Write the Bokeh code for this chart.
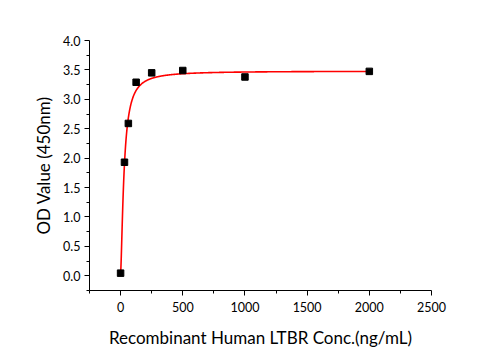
import numpy as np
from bokeh.plotting import figure
from bokeh.models import Range1d, FixedTicker, PrintfTickFormatter
from bokeh.embed import file_html
from bokeh.resources import INLINE

# Measured data
conc = [0, 31.25, 62.5, 125, 250, 500, 1000, 2000]
od = [0.045, 1.93, 2.59, 3.29, 3.45, 3.49, 3.38, 3.475]

# 4-parameter logistic fit parameters (as drawn in the chart)
fit_A1 = 0.045
fit_A2 = 3.48
fit_x0 = 28.0
fit_p = 1.5

x_ticks = [0, 500, 1000, 1500, 2000, 2500]
y_ticks = [0.0, 0.5, 1.0, 1.5, 2.0, 2.5, 3.0, 3.5, 4.0]

xs = np.linspace(0, 2000, 800)
ys = fit_A2 + (fit_A1 - fit_A2) / (1 + (xs / fit_x0) ** fit_p)

FONT = "Lato"

p = figure(width=501, height=350, output_backend="svg", toolbar_location=None,
           x_range=Range1d(-250, 2500), y_range=Range1d(-0.25, 4.0),
           min_border_left=89, min_border_right=70, min_border_top=40,
           min_border_bottom=58)
p.outline_line_color = None
p.xgrid.visible = False
p.ygrid.visible = False
p.background_fill_color = "white"
p.border_fill_color = "white"

p.line(xs, ys, line_color="red", line_width=1.6)
p.scatter(conc, od, marker="square", size=6.5, fill_color="black", line_color="black")

xa = p.xaxis[0]
xa.ticker = FixedTicker(ticks=x_ticks, minor_ticks=[-250, 250, 750, 1250, 1750, 2250])
xa.axis_label = "Recombinant Human LTBR Conc.(ng/mL)"
ya = p.yaxis[0]
ya.ticker = FixedTicker(ticks=y_ticks, minor_ticks=[-0.25, 0.25, 0.75, 1.25, 1.75, 2.25, 2.75, 3.25, 3.75])
ya.formatter = PrintfTickFormatter(format="%.1f")
ya.axis_label = "OD Value (450nm)"

for ax in (xa, ya):
    ax.axis_line_color = "black"
    ax.major_tick_line_color = "black"
    ax.minor_tick_line_color = "black"
    ax.major_tick_out = 5
    ax.major_tick_in = 0
    ax.minor_tick_out = 3
    ax.minor_tick_in = 0
    ax.major_label_text_font = FONT
    ax.major_label_text_font_size = "12.5px"
    ax.major_label_text_color = "black"
    ax.axis_label_text_font = FONT
    ax.axis_label_text_font_size = "17px"
    ax.axis_label_text_font_style = "normal"
    ax.axis_label_text_color = "black"

xa.major_label_standoff = 6
xa.axis_label_standoff = 12
ya.major_label_standoff = 4
ya.axis_label_standoff = 6

open("out.html", "w").write(file_html(p, INLINE))
